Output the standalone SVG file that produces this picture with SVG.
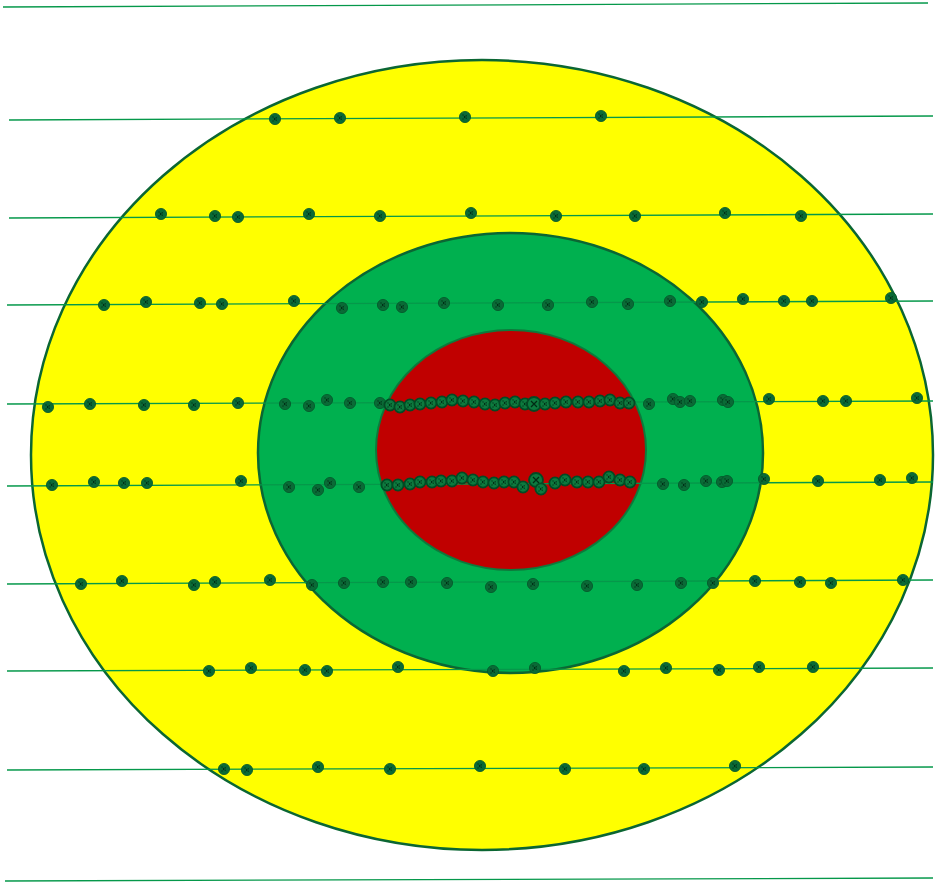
<svg xmlns="http://www.w3.org/2000/svg" xmlns:xlink="http://www.w3.org/1999/xlink" width="936" height="882" viewBox="0 0 936 882">
<style>
.ln{stroke:#05984a;stroke-width:1.3;fill:none}
.zone{stroke:#0b6633;stroke-width:2.5}
</style>
<defs>
<g id="m">
<circle r="5.6" fill="#0a6a36" stroke="#04562a" stroke-width="0.8"/>
<path d="M-2.4,-2.4L2.4,2.4M-2.4,2.4L2.4,-2.4" stroke="#012a14" stroke-width="1.1" stroke-dasharray="1.2 1"/>
</g>
<g id="c">
<circle r="5.6" fill="#0d7a3e" stroke="#034a24" stroke-width="1.8"/>
<path d="M-2.4,-2.4L2.4,2.4M-2.4,2.4L2.4,-2.4" stroke="#012a14" stroke-width="1.1" stroke-dasharray="1.2 1"/>
</g>
<g id="mb">
<circle r="7" fill="#0d7a3e" stroke="#034a24" stroke-width="1.8"/>
<path d="M-3,-3L3,3M-3,3L3,-3" stroke="#012a14" stroke-width="1.2"/>
</g>
</defs>
<rect width="936" height="882" fill="#ffffff"/>
<g id="outer"><ellipse class="zone" cx="482" cy="455" rx="451" ry="395" fill="#ffff00"/></g>
<g id="middle"><ellipse class="zone" cx="510.5" cy="453" rx="252.5" ry="220" fill="#00b04f"/></g>
<g id="inner"><ellipse cx="511" cy="450" rx="135" ry="120" fill="#c00000" stroke="#0d7a3c" stroke-width="2"/></g>
<g id="connectors">
<line class="ln" x1="3" y1="7" x2="928" y2="3"/>
<line class="ln" x1="9" y1="120" x2="933" y2="116"/>
<line class="ln" x1="9" y1="218" x2="933" y2="214"/>
<line class="ln" x1="7" y1="305" x2="933" y2="301"/>
<line class="ln" x1="7" y1="404" x2="933" y2="401"/>
<line class="ln" x1="7" y1="486" x2="933" y2="482"/>
<line class="ln" x1="7" y1="584" x2="933" y2="580"/>
<line class="ln" x1="7" y1="671" x2="933" y2="668"/>
<line class="ln" x1="7" y1="770" x2="933" y2="767"/>
<line class="ln" x1="5" y1="881" x2="933" y2="878"/>
</g>
<g id="row1">
<use href="#m" x="275" y="119"/><use href="#m" x="340" y="118"/><use href="#m" x="465" y="117"/><use href="#m" x="601" y="116"/>
</g>
<g id="row2">
<use href="#m" x="161" y="214"/><use href="#m" x="215" y="216"/><use href="#m" x="238" y="217"/><use href="#m" x="309" y="214"/><use href="#m" x="380" y="216"/><use href="#m" x="471" y="213"/><use href="#m" x="556" y="216"/><use href="#m" x="635" y="216"/><use href="#m" x="725" y="213"/><use href="#m" x="801" y="216"/>
</g>
<g id="row3">
<use href="#m" x="104" y="305"/><use href="#m" x="146" y="302"/><use href="#m" x="200" y="303"/><use href="#m" x="222" y="304"/><use href="#m" x="294" y="301"/><use href="#m" x="342" y="308"/><use href="#m" x="383" y="305"/><use href="#m" x="402" y="307"/><use href="#m" x="444" y="303"/><use href="#m" x="498" y="305"/><use href="#m" x="548" y="305"/><use href="#m" x="592" y="302"/><use href="#m" x="628" y="304"/><use href="#m" x="670" y="301"/><use href="#m" x="702" y="302"/><use href="#m" x="743" y="299"/><use href="#m" x="784" y="301"/><use href="#m" x="812" y="301"/><use href="#m" x="891" y="298"/>
</g>
<g id="row4">
<use href="#m" x="48" y="407"/><use href="#m" x="90" y="404"/><use href="#m" x="144" y="405"/><use href="#m" x="194" y="405"/><use href="#m" x="238" y="403"/><use href="#m" x="285" y="404"/><use href="#m" x="309" y="406"/><use href="#m" x="327" y="400"/><use href="#m" x="350" y="403"/><use href="#m" x="380" y="403"/>
<use href="#c" x="390" y="405"/><use href="#c" x="400" y="407"/><use href="#c" x="410" y="405"/><use href="#c" x="420" y="404"/><use href="#c" x="431" y="403"/><use href="#c" x="442" y="402"/><use href="#c" x="452" y="400"/><use href="#c" x="463" y="401"/><use href="#c" x="474" y="402"/><use href="#c" x="485" y="404"/><use href="#c" x="495" y="405"/><use href="#c" x="505" y="403"/><use href="#c" x="515" y="402"/><use href="#c" x="525" y="404"/><use href="#mb" x="534" y="404"/><use href="#c" x="545" y="404"/><use href="#c" x="555" y="403"/><use href="#c" x="566" y="402"/><use href="#c" x="578" y="402"/><use href="#c" x="589" y="402"/><use href="#c" x="600" y="401"/><use href="#c" x="610" y="400"/><use href="#c" x="620" y="403"/><use href="#c" x="629" y="403"/>
<use href="#m" x="649" y="404"/><use href="#m" x="673" y="399"/><use href="#m" x="680" y="402"/><use href="#m" x="690" y="401"/><use href="#m" x="723" y="400"/><use href="#m" x="728" y="402"/><use href="#m" x="769" y="399"/><use href="#m" x="823" y="401"/><use href="#m" x="846" y="401"/><use href="#m" x="917" y="398"/>
</g>
<g id="row5">
<use href="#m" x="52" y="485"/><use href="#m" x="94" y="482"/><use href="#m" x="124" y="483"/><use href="#m" x="147" y="483"/><use href="#m" x="241" y="481"/><use href="#m" x="289" y="487"/><use href="#m" x="318" y="490"/><use href="#m" x="330" y="483"/><use href="#m" x="359" y="487"/>
<use href="#c" x="387" y="485"/><use href="#c" x="398" y="485"/><use href="#c" x="410" y="484"/><use href="#c" x="420" y="482"/><use href="#c" x="432" y="482"/><use href="#c" x="441" y="481"/><use href="#c" x="452" y="481"/><use href="#c" x="462" y="478"/><use href="#c" x="473" y="480"/><use href="#c" x="483" y="482"/><use href="#c" x="494" y="483"/><use href="#c" x="504" y="482"/><use href="#c" x="514" y="482"/><use href="#c" x="523" y="487"/><use href="#mb" x="536" y="480"/><use href="#c" x="541" y="489"/><use href="#c" x="555" y="483"/><use href="#c" x="565" y="480"/><use href="#c" x="577" y="482"/><use href="#c" x="588" y="482"/><use href="#c" x="599" y="482"/><use href="#c" x="609" y="477"/><use href="#c" x="620" y="480"/><use href="#c" x="630" y="482"/>
<use href="#m" x="663" y="484"/><use href="#m" x="684" y="485"/><use href="#m" x="706" y="481"/><use href="#m" x="722" y="482"/><use href="#m" x="727" y="481"/><use href="#m" x="764" y="479"/><use href="#m" x="818" y="481"/><use href="#m" x="880" y="480"/><use href="#m" x="912" y="478"/>
</g>
<g id="row6">
<use href="#m" x="81" y="584"/><use href="#m" x="122" y="581"/><use href="#m" x="194" y="585"/><use href="#m" x="215" y="582"/><use href="#m" x="270" y="580"/><use href="#m" x="312" y="585"/><use href="#m" x="344" y="583"/><use href="#m" x="383" y="582"/><use href="#m" x="411" y="582"/><use href="#m" x="447" y="583"/><use href="#m" x="491" y="587"/><use href="#m" x="533" y="584"/><use href="#m" x="587" y="586"/><use href="#m" x="637" y="585"/><use href="#m" x="681" y="583"/><use href="#m" x="713" y="583"/><use href="#m" x="755" y="581"/><use href="#m" x="800" y="582"/><use href="#m" x="831" y="583"/><use href="#m" x="903" y="580"/>
</g>
<g id="row7">
<use href="#m" x="209" y="671"/><use href="#m" x="251" y="668"/><use href="#m" x="305" y="670"/><use href="#m" x="327" y="671"/><use href="#m" x="398" y="667"/><use href="#m" x="493" y="671"/><use href="#m" x="535" y="668"/><use href="#m" x="624" y="671"/><use href="#m" x="666" y="668"/><use href="#m" x="719" y="670"/><use href="#m" x="759" y="667"/><use href="#m" x="813" y="667"/>
</g>
<g id="row8">
<use href="#m" x="224" y="769"/><use href="#m" x="247" y="770"/><use href="#m" x="318" y="767"/><use href="#m" x="390" y="769"/><use href="#m" x="480" y="766"/><use href="#m" x="565" y="769"/><use href="#m" x="644" y="769"/><use href="#m" x="735" y="766"/>
</g>
</svg>
